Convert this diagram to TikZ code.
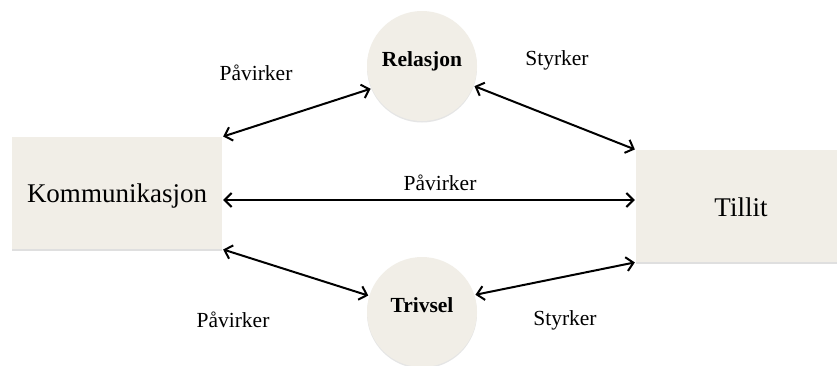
\documentclass[tikz,border=0pt]{standalone}
\usepackage{fontspec}
\setmainfont{Liberation Serif}
\usetikzlibrary{arrows.meta,shadows}
\definecolor{boxfill}{HTML}{F1EEE7}
\begin{document}
\begin{tikzpicture}[x=1pt,y=-1pt,
  box/.style={draw=none,fill=boxfill,minimum width=210pt,minimum height=112pt,inner sep=0pt,
    drop shadow={shadow xshift=0pt,shadow yshift=-2pt,opacity=0.25}},
  ball/.style={circle,draw=none,fill=boxfill,minimum size=110pt,inner sep=0pt,
    drop shadow={shadow xshift=0pt,shadow yshift=-1.5pt,opacity=0.2}},
  big/.style={font=\fontsize{27}{31}\selectfont},
  lab/.style={font=\fontsize{21.5}{25}\selectfont},
  bold/.style={font=\fontsize{21.5}{25}\selectfont\bfseries},
  arr/.style={{Straight Barb[length=7pt,width=14pt,line width=2pt]}-{Straight Barb[length=7pt,width=14pt,line width=2pt]},line width=2pt,black,shorten <=1pt,shorten >=1pt}]
\useasboundingbox (0,0) rectangle (837,365);
\clip (0,0) rectangle (837,365);
\fill[white] (0,0) rectangle (837,365);
\node[box] (komm) at (117,193) {};
\node[big] (kommt) at (117,196) {Kommunikasjon};
\node[box] (tillit) at (741,206) {};
\node[big] (tillitt) at (741,207) {Tillit};
\node[ball] (rel) at (422,66) {};
\node[bold] (relt) at (422,61) {Relasjon};
\node[ball] (triv) at (422,312) {};
\node[bold] (trivt) at (422,305) {Trivsel};
\node[lab] (l1) at (256,73) {Påvirker};
\node[lab] (l2) at (557,60) {Styrker};
\node[lab] (l3) at (440,183) {Påvirker};
\node[lab] (l4) at (233,320) {Påvirker};
\node[lab] (l5) at (565,320) {Styrker};
\draw[arr] (komm.north east) -- (rel.204);
\draw[arr] (rel.339) -- (tillit.north west);
\draw[arr] (komm.east |- 0,200) -- (tillit.west |- 0,200);
\draw[arr] (komm.south east) -- (triv.163);
\draw[arr] (triv.18) -- (tillit.south west);
\end{tikzpicture}
\end{document}
